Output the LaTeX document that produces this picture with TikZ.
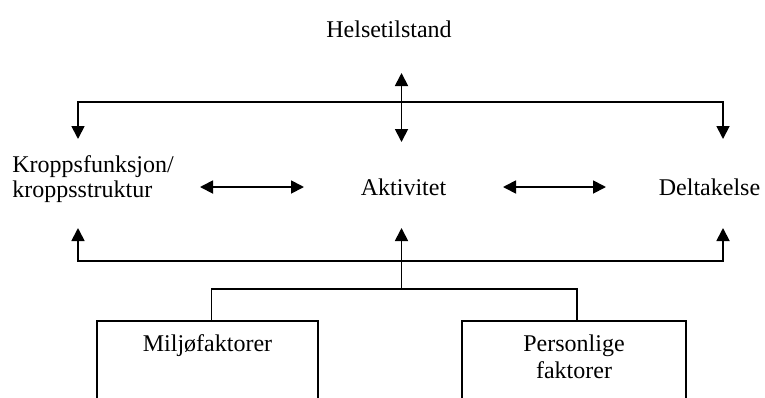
\documentclass[tikz,border=0pt]{standalone}
\usepackage{fontspec}
\setmainfont{Liberation Serif}
\usetikzlibrary{arrows.meta}
\begin{document}
\begin{tikzpicture}[font=\fontsize{12}{13.5}\selectfont,>={Triangle[length=6.5pt,width=6.5pt]},x=0.5pt,y=-0.5pt]
    \tikzset{
        link/.style={line width=0.9pt},
        txt/.style={inner sep=0pt},
        factorbox/.style={draw,line width=0.9pt,minimum height=100pt,inner sep=0pt}
    }
    \useasboundingbox (0,0) rectangle (765,397);

    \node[txt,anchor=base] (helse) at (389,37) {Helsetilstand};
    \node[txt,anchor=base west,align=left] (kropp) at (12,197)
        {Kroppsfunksjon/\\[-1pt]kroppsstruktur};
    \node[txt,anchor=base] (akt) at (403.5,195) {Aktivitet};
    \node[txt,anchor=base] (delta) at (709.5,195) {Deltakelse};

    \node[factorbox,anchor=north,minimum width=110.5pt] (miljo) at (207.5,320) {};
    \node[factorbox,anchor=north,minimum width=112pt] (pers) at (574,320) {};
    \node[txt,anchor=base] (miljotxt) at (207.5,351) {Miljøfaktorer};
    \node[txt,anchor=base,align=center] (perstxt) at (574,378) {Personlige\\faktorer};

    % x/y in pixels of the 765x397 layout
    \coordinate (top) at (401.5,102);
    \coordinate (topU) at (401.5,73);
    \coordinate (topD) at (401.5,142);
    \coordinate (kroppU) at (78,139);
    \coordinate (deltaU) at (723,139);
    \coordinate (base) at (401.5,261);
    \coordinate (fork) at (401.5,289);
    \coordinate (kroppD) at (78,228);
    \coordinate (aktD) at (401.5,228);
    \coordinate (deltaD) at (723,228);
    \coordinate (kaL) at (200,187);
    \coordinate (kaR) at (304,187);
    \coordinate (adL) at (503,187);
    \coordinate (adR) at (606,187);

    \draw[link,<->] (topD) -- (topU);
    \draw[link,->] (top) -| (kroppU);
    \draw[link,->] (top) -| (deltaU);
    \draw[link,<->] (kaL) -- (kaR);
    \draw[link,<->] (adL) -- (adR);

    \draw[link,->] (base) -| (kroppD);
    \draw[link,->] (base) -| (deltaD);
    \draw[link,->] (fork) -- (aktD);
    \draw[link] ([xshift=2pt]miljo.north) |- (fork) -| ([xshift=1.5pt]pers.north);
\end{tikzpicture}
\end{document}
